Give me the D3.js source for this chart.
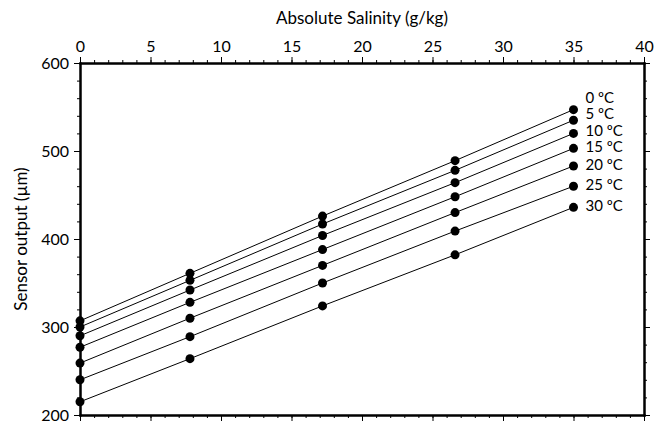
<!DOCTYPE html>
<html lang="en">
    <head>
        <meta charset="utf-8">
        <title>Sensor output vs Absolute Salinity</title>
        <script type="text/javascript" src="https://cdn.jsdelivr.net/npm/d3@7/dist/d3.min.js"></script>
        <style type="text/css">
          body { margin: 0; background: #fff; }
          text { font-family: Lato, "Open Sans", sans-serif; fill: #000; }
          .axis path { stroke: #000; stroke-width: 2px; }
          .axis line { stroke: #000; stroke-width: 1px; }
          .axis text { font-size: 16px; }
        </style>
    </head>
    <body>
        <script type="text/javascript">

          // absolute salinity (g/kg) of the calibration points
          var salinity = [0, 7.8, 17.2, 26.6, 35];
          var temps = [0, 5, 10, 15, 20, 25, 30];

          // sensor output (um), one list per temperature
          var t0  = [307, 361, 426, 489, 547];
          var t5  = [300, 353, 417, 478, 535];
          var t10 = [290, 342, 404, 464, 520];
          var t15 = [277, 328, 388, 448, 503];
          var t20 = [259, 310, 370, 430, 483];
          var t25 = [240, 289, 350, 409, 460];
          var t30 = [215, 264, 324, 382, 436];
          var series = [t0, t5, t10, t15, t20, t25, t30];

          var xTicks = [0, 5, 10, 15, 20, 25, 30, 35, 40];
          var yTicks = [200, 300, 400, 500, 600];

          var w = 654;
          var h = 424;
          var margin = {top: 63, right: 10, bottom: 9, left: 80},
              width = w - margin.left - margin.right,
              height = h - margin.top - margin.bottom;

          var svg = d3.select("body")
                      .append("svg")
                      .attr("width", w)
                      .attr("height", h);

          var xScale = d3.scaleLinear()
                         .domain([0, 40])
                         .range([margin.left, margin.left + width]);

          var yScale = d3.scaleLinear()
                         .domain([200, 600])
                         .range([h - margin.bottom, margin.top]);

          var xMinor = d3.range(0, 41, 1);
          var yMinor = d3.range(200, 601, 20);

          function addAxis(axis, tx, ty) {
            return svg.append("g")
                      .attr("class", "axis")
                      .attr("transform", "translate(" + tx + "," + ty + ")")
                      .call(axis);
          }

          // minor ticks first
          addAxis(d3.axisTop(xScale).tickValues(xMinor).tickSize(3).tickSizeOuter(0).tickFormat(""), 0, margin.top);
          addAxis(d3.axisBottom(xScale).tickValues(xMinor).tickSize(3).tickSizeOuter(0).tickFormat(""), 0, h - margin.bottom);
          addAxis(d3.axisLeft(yScale).tickValues(yMinor).tickSize(3).tickSizeOuter(0).tickFormat(""), margin.left, 0);
          addAxis(d3.axisRight(yScale).tickValues(yMinor).tickSize(3).tickSizeOuter(0).tickFormat(""), margin.left + width, 0);

          // major ticks
          addAxis(d3.axisTop(xScale).tickValues(xTicks).tickSize(6).tickSizeOuter(0).tickPadding(5), 0, margin.top);
          addAxis(d3.axisBottom(xScale).tickValues(xTicks).tickSize(6).tickSizeOuter(0).tickFormat(""), 0, h - margin.bottom);
          addAxis(d3.axisLeft(yScale).tickValues(yTicks).tickSize(6).tickSizeOuter(0).tickPadding(5), margin.left, 0);
          addAxis(d3.axisRight(yScale).tickValues(yTicks).tickSize(6).tickSizeOuter(0).tickFormat(""), margin.left + width, 0);

          svg.selectAll(".axis path").attr("stroke-linecap", "square");

          var line = d3.line()
                       .x(function(d, i) { return xScale(salinity[i]); })
                       .y(function(d) { return yScale(d); });

          svg.selectAll(".series")
             .data(series)
             .enter()
             .append("path")
             .attr("class", "series")
             .attr("fill", "none")
             .attr("stroke", "#000")
             .attr("stroke-width", 1)
             .attr("d", line);

          series.forEach(function(s) {
            svg.selectAll(null)
               .data(s)
               .enter()
               .append("circle")
               .attr("cx", function(d, i) { return xScale(salinity[i]); })
               .attr("cy", function(d) { return yScale(d); })
               .attr("r", 4.5)
               .attr("fill", "#000");
          });

          // temperature labels at the end of each line, pushed apart from the bottom up
          var lastY = Infinity;
          var labelY = [];
          for (var i = series.length - 1; i >= 0; i--) {
            var yy = Math.min(yScale(series[i][series[i].length - 1]), lastY - 16.5);
            labelY[i] = yy;
            lastY = yy;
          }

          svg.selectAll(".tlabel")
             .data(temps)
             .enter()
             .append("text")
             .attr("class", "tlabel")
             .attr("x", xScale(35) + 12)
             .attr("y", function(d, i) { return labelY[i] - 1.5; })
             .attr("dy", "0.35em")
             .style("font-size", "15px")
             .text(function(d) { return d + " \u00baC"; });

          svg.append("text")
             .attr("x", margin.left + width / 2)
             .attr("y", 24)
             .attr("text-anchor", "middle")
             .style("font-size", "17px")
             .text("Absolute Salinity (g/kg)");

          svg.append("text")
             .attr("transform", "translate(27," + (margin.top + height / 2) + ") rotate(-90)")
             .attr("text-anchor", "middle")
             .style("font-size", "17px")
             .text("Sensor output (\u00b5m)");

        </script>
    </body>
</html>
